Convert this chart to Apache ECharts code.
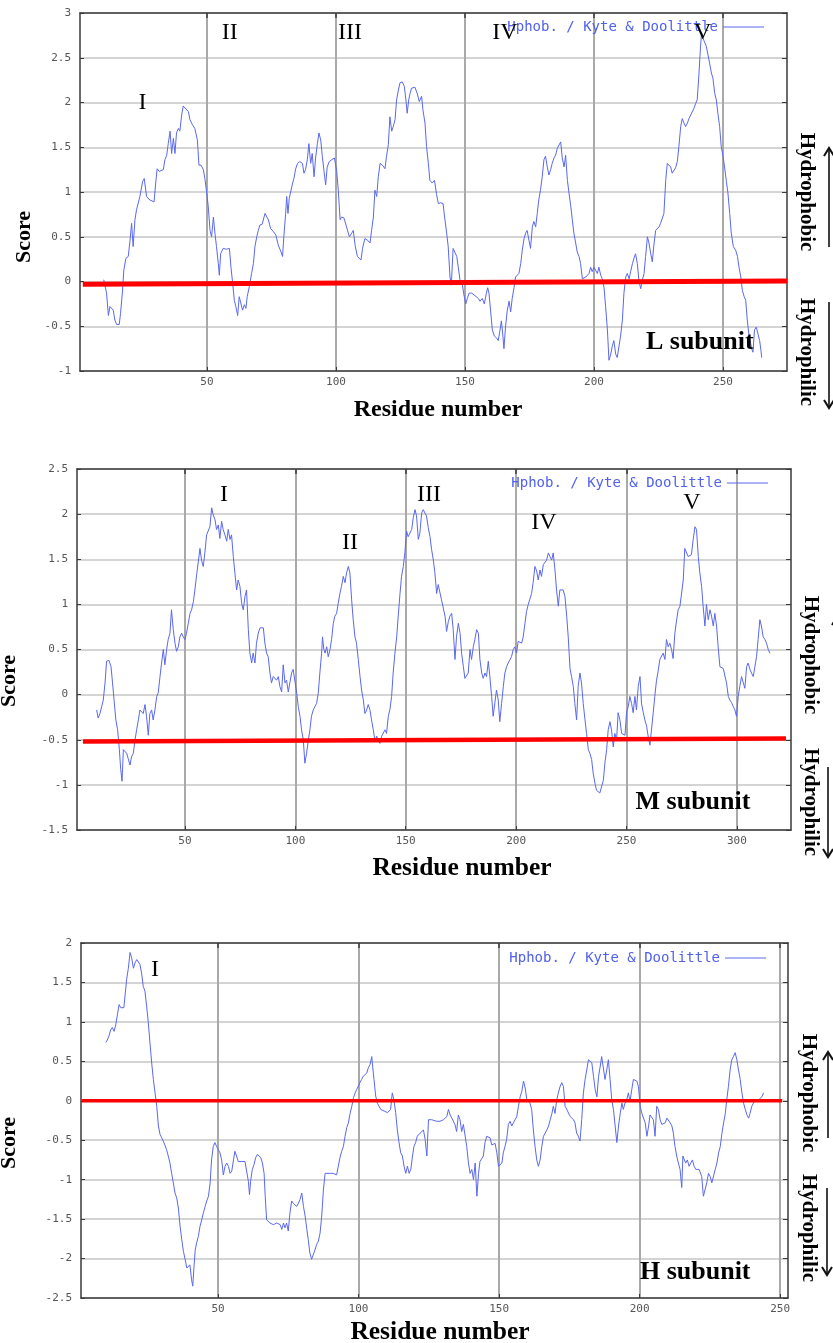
<!DOCTYPE html>
<html><head><meta charset="utf-8">
<script src="https://cdn.jsdelivr.net/npm/echarts@6/dist/echarts.min.js"></script>
<style>html,body{margin:0;padding:0;background:#fff}#c{width:833px;height:1343px}</style>
</head><body><div id="c"></div>
<script>
// ---------------- DATA ----------------
const seriesName = 'Hphob. / Kyte & Doolittle';

const lXRange = [0.8, 274.8], lYRange = [-1, 3];
const mXRange = [1.1, 324.5], mYRange = [-1.5, 2.5];
const hXRange = [1.25, 252.8], hYRange = [-2.5, 2];
const lXTicks = [50, 100, 150, 200, 250];
const mXTicks = [50, 100, 150, 200, 250, 300];
const hXTicks = [50, 100, 150, 200, 250];

// [residue, score]
const lProfile = [[10,0.02],[11.1,-0.13],[11.8,-0.38],[12.4,-0.28],[13,-0.3],[13.7,-0.32],[14.3,-0.43],[15,-0.48],[16,-0.48],[16.5,-0.36],[17.2,-0.13],[17.8,0.13],[18.6,0.26],[19.5,0.28],[20.2,0.46],[20.8,0.65],[21.4,0.39],[22.1,0.69],[22.7,0.8],[23.4,0.82],[24,0.95],[25.1,1.12],[25.7,1.15],[26.6,0.95],[27.9,0.91],[29.5,0.89],[30.2,1.12],[30.7,1.26],[31.5,1.23],[33.1,1.25],[33.7,1.36],[34.4,1.41],[35,1.54],[35.7,1.68],[36.3,1.43],[37,1.6],[37.6,1.43],[38.2,1.66],[38.9,1.71],[39.5,1.68],[40.2,1.86],[40.8,1.96],[41.5,1.96],[42.8,1.9],[43.4,1.81],[44.4,1.75],[45.3,1.71],[46.3,1.58],[46.9,1.3],[47.7,1.3],[48.6,1.25],[49.2,1.15],[49.9,0.99],[50.5,0.84],[51.2,0.57],[51.8,0.5],[52.5,0.72],[53.1,0.54],[53.7,0.39],[54.4,0.2],[54.8,0.07],[55.3,0.31],[56.3,0.37],[57.6,0.36],[58.7,0.37],[59.3,0.16],[59.9,0],[60.6,-0.21],[61.2,-0.28],[61.9,-0.38],[62.5,-0.17],[63.2,-0.25],[63.8,-0.32],[64.5,-0.26],[65.1,-0.3],[65.6,-0.17],[66.4,-0.06],[67.3,0.09],[68,0.2],[68.6,0.39],[69.3,0.5],[69.9,0.57],[70.5,0.63],[71.4,0.64],[72.5,0.76],[73.1,0.78],[73.8,0.69],[74.7,0.59],[75.7,0.56],[76.7,0.52],[77.6,0.41],[78.7,0.33],[79.3,0.28],[79.8,0.5],[80.5,0.76],[80.9,0.95],[81.4,0.76],[81.9,0.93],[82.6,0.95],[83.2,1.1],[83.7,1.15],[84.4,1.26],[85.1,1.32],[86,1.34],[87,1.32],[87.6,1.21],[88.2,1.25],[88.9,1.36],[89.5,1.54],[90.2,1.32],[90.8,1.43],[91.5,1.17],[92.1,1.38],[92.8,1.54],[93.4,1.66],[94.1,1.58],[94.7,1.4],[95.3,1.25],[96,1.08],[96.6,1.28],[97.4,1.34],[98.3,1.36],[99.4,1.38],[100.3,1.23],[100.9,1.02],[101.6,0.69],[102.2,0.72],[103.1,0.71],[104.1,0.61],[105.2,0.5],[106.1,0.54],[106.7,0.57],[107.5,0.39],[108.3,0.28],[109,0.26],[109.7,0.24],[110.3,0.37],[111.2,0.48],[112.3,0.46],[113.2,0.43],[113.8,0.57],[114.5,0.72],[115.1,1.02],[115.8,0.95],[116.4,1.17],[117.1,1.32],[118,1.3],[119,1.26],[119.6,1.4],[120.3,1.53],[120.9,1.84],[121.6,1.68],[122.2,1.73],[122.9,1.81],[123.5,2.03],[124.2,2.14],[124.8,2.22],[125.7,2.23],[126.5,2.18],[127.1,2.03],[127.6,1.88],[128.2,2.03],[128.7,2.1],[129.3,2.16],[130.6,2.17],[131.5,2.1],[132.3,2.01],[133.2,2.07],[133.7,1.92],[134.5,1.77],[135.1,1.51],[135.8,1.32],[136.4,1.13],[137.3,1.1],[138.2,1.13],[139,0.97],[139.7,0.87],[140.6,0.88],[141.5,0.87],[142.1,0.72],[142.9,0.54],[143.5,0.39],[144.2,0.05],[144.7,-0.04],[145.4,0.37],[146.1,0.35],[146.8,0.28],[147.4,0.16],[148.1,0.01],[149,-0.04],[149.6,-0.15],[150.3,-0.25],[150.9,-0.19],[151.6,-0.13],[152.6,-0.13],[153.5,-0.15],[154.4,-0.17],[155.2,-0.19],[155.8,-0.22],[156.7,-0.19],[157.5,-0.25],[158.3,-0.13],[158.8,-0.07],[159.3,-0.13],[159.9,-0.32],[160.6,-0.54],[161.4,-0.61],[162.2,-0.63],[162.9,-0.66],[163.6,-0.54],[164.1,-0.44],[164.7,-0.61],[165.1,-0.75],[165.7,-0.51],[166.4,-0.32],[167.1,-0.22],[167.7,-0.34],[168.3,-0.19],[169,-0.07],[169.6,0.05],[170.3,0.03],[170.9,0.09],[171.6,0.2],[172.2,0.35],[172.9,0.48],[173.5,0.54],[174.1,0.57],[174.8,0.46],[175.4,0.37],[176.1,0.61],[176.7,0.67],[177.4,0.61],[178,0.76],[178.6,0.91],[179.3,1.03],[179.9,1.16],[180.6,1.36],[181.2,1.4],[181.9,1.28],[182.5,1.19],[183.2,1.25],[183.8,1.32],[184.5,1.38],[185.1,1.41],[185.8,1.49],[186.4,1.51],[187.1,1.56],[187.7,1.38],[188.4,1.28],[189,1.41],[189.7,1.13],[190.3,0.99],[191,0.84],[191.6,0.69],[192.2,0.54],[192.9,0.43],[193.5,0.33],[194.2,0.28],[194.8,0.2],[195.5,0.03],[196.1,0.01],[196.8,0.05],[197.4,0.03],[198.1,0.09],[198.7,0.16],[199.3,0.11],[200,0.16],[200.6,0.14],[201.3,0.09],[201.9,0.16],[202.6,0.07],[203.2,0.03],[203.9,-0.07],[204.5,-0.28],[205.2,-0.54],[205.8,-0.88],[206.5,-0.81],[207.1,-0.72],[207.7,-0.66],[208.4,-0.81],[209,-0.85],[209.7,-0.85],[210.3,-0.61],[211,-0.43],[211.6,-0.13],[212.3,0.05],[212.9,0.09],[213.6,0.03],[214.2,0.11],[214.9,0.2],[215.5,0.26],[216.1,0.31],[216.8,0.2],[217.4,0.01],[218.1,-0.08],[218.7,0.01],[219.4,0.09],[220,0.28],[220.7,0.5],[221.3,0.43],[222,0.31],[222.6,0.22],[223.3,0.43],[223.9,0.57],[224.5,0.59],[225.2,0.61],[225.8,0.65],[226.5,0.65],[227.1,0.76],[227.8,1.13],[228.4,1.32],[229.1,1.34],[229.7,1.28],[230.3,1.21],[231,1.19],[231.6,1.27],[232.3,1.34],[232.9,1.51],[233.6,1.73],[234.2,1.82],[234.9,1.77],[235.5,1.73],[236.2,1.77],[236.8,1.82],[237.5,1.86],[238.1,1.88],[238.8,1.94],[239.4,1.99],[240,2.03],[240.7,2.33],[241.3,2.63],[241.7,2.78],[242.2,2.72],[242.9,2.7],[243.5,2.63],[244.2,2.53],[244.8,2.44],[245.5,2.33],[246.1,2.27],[246.8,2.1],[247.4,2.03],[248,1.88],[248.7,1.73],[249.3,1.51],[250,1.4],[250.6,1.28],[251.3,1.12],[251.9,0.99],[252.6,0.76],[253.2,0.54],[254,0.39],[254.9,0.35],[255.6,0.28],[256.2,0.16],[256.9,0.05],[257.5,-0.1],[258.2,-0.17],[258.8,-0.21],[259.4,-0.43],[260.1,-0.61],[260.7,-0.69],[261.1,-0.75],[261.6,-0.79],[262.2,-0.54],[262.9,-0.51],[263.6,-0.51],[264.2,-0.66],[264.7,-0.77],[265,-0.85]];

const mProfile = [[10,-0.17],[10.7,-0.26],[11.5,-0.21],[12.3,-0.13],[13,-0.06],[13.8,0.13],[14.5,0.37],[15.6,0.38],[16.5,0.31],[17.2,0.13],[18,-0.09],[18.7,-0.28],[19.5,-0.39],[20.3,-0.61],[20.9,-0.83],[21.5,-0.96],[22.1,-0.61],[22.8,-0.59],[23.6,-0.65],[24.3,-0.71],[25.1,-0.78],[25.8,-0.69],[26.6,-0.65],[27.4,-0.5],[28.1,-0.39],[28.9,-0.28],[29.6,-0.17],[30.4,-0.15],[31.1,-0.21],[31.9,-0.11],[32.6,-0.24],[33.4,-0.45],[34.1,-0.21],[34.9,-0.17],[35.6,-0.28],[36.4,-0.17],[37.2,-0.02],[37.9,0.02],[38.7,0.2],[39.4,0.35],[40.2,0.5],[40.9,0.33],[41.7,0.5],[42.4,0.61],[43.2,0.68],[43.9,0.94],[44.7,0.72],[45.5,0.57],[46.2,0.48],[47,0.53],[47.7,0.64],[48.5,0.68],[49.2,0.64],[50,0.61],[50.7,0.68],[51.5,0.79],[52.3,0.9],[53,0.94],[53.8,1.03],[54.5,1.16],[55.3,1.33],[56,1.31],[56.8,1.62],[57.5,1.49],[58.3,1.42],[59,1.57],[59.8,1.77],[60.6,1.77],[61.3,1.86],[62.1,2.07],[62.8,1.99],[63.6,1.94],[64.3,1.83],[65.1,1.88],[65.8,1.73],[66.6,1.92],[67.3,1.83],[68.1,1.77],[68.9,1.7],[69.6,1.83],[70.4,1.72],[71.1,1.77],[71.9,1.53],[72.6,1.35],[73.4,1.16],[74.1,1.27],[74.9,1.2],[75.7,1.01],[76.4,0.94],[77.2,1.09],[77.9,1.16],[78.7,0.72],[79.4,0.46],[80.2,0.35],[80.9,0.46],[81.7,0.35],[82.4,0.57],[83.2,0.68],[84,0.74],[84.7,0.72],[85.5,0.74],[86.2,0.57],[87,0.46],[87.7,0.42],[88.5,0.24],[89.2,0.13],[90,0.2],[90.7,0.2],[91.5,0.16],[92.3,0.2],[93,0.09],[93.8,0.03],[94.5,0.33],[95.3,0.13],[96,0.16],[96.8,0.03],[97.5,0.13],[98.3,0.24],[99,0.28],[99.8,0.26],[100.6,0.02],[101.3,-0.13],[102.1,-0.24],[102.8,-0.39],[103.6,-0.5],[104.3,-0.76],[105.1,-0.65],[105.8,-0.52],[106.6,-0.39],[107.3,-0.24],[108.1,-0.17],[108.9,-0.13],[109.6,-0.1],[110.4,0.02],[111.1,0.24],[111.9,0.46],[112.3,0.64],[112.9,0.5],[113.5,0.46],[114.2,0.53],[114.9,0.42],[115.7,0.5],[116.4,0.61],[117.2,0.79],[117.9,0.87],[118.7,0.9],[119.4,1.01],[120.2,1.12],[120.9,1.2],[121.7,1.31],[122.5,1.24],[123.2,1.35],[124,1.42],[124.7,1.35],[125.5,1.05],[126.2,0.83],[127,0.64],[127.7,0.57],[128.5,0.39],[129.3,0.2],[130,0.05],[130.8,-0.06],[131.5,-0.21],[132.3,-0.17],[133,-0.11],[133.8,-0.17],[134.5,-0.28],[135.3,-0.39],[136.1,-0.52],[136.8,-0.46],[137.6,-0.48],[138.3,-0.54],[139.1,-0.46],[139.8,-0.45],[140.6,-0.39],[141.3,-0.43],[142.1,-0.24],[142.8,-0.17],[143.6,-0.02],[144.3,0.24],[145.1,0.46],[145.9,0.64],[146.6,0.87],[147.4,1.12],[148.1,1.31],[148.9,1.42],[149.6,1.57],[150.4,1.81],[151.1,1.75],[151.9,1.79],[152.7,1.83],[153.4,1.96],[154.2,2.05],[154.9,1.98],[155.7,1.72],[156.4,1.79],[157.2,2.01],[157.9,2.05],[158.7,2.07],[159.4,1.98],[160.2,1.85],[161,1.75],[161.7,1.61],[162.5,1.49],[163.2,1.35],[164,1.12],[164.7,1.22],[165.5,1.2],[166.2,1.05],[167,0.96],[167.8,0.87],[168.5,0.7],[169.3,0.81],[170,0.87],[170.8,0.9],[171.5,0.72],[172.3,0.39],[173,0.64],[173.8,0.79],[174.6,0.68],[175.3,0.46],[176.1,0.31],[176.8,0.18],[177.6,0.18],[178.3,0.24],[179.1,0.5],[179.8,0.39],[180.6,0.53],[181.3,0.61],[182.1,0.72],[182.9,0.68],[183.6,0.39],[184.4,0.24],[185.1,0.18],[185.9,0.24],[186.6,0.2],[187.4,0.37],[188.1,0.2],[188.9,-0.02],[189.6,-0.24],[190.4,-0.24],[191.1,0.05],[191.9,-0.06],[192.6,-0.3],[193.4,-0.1],[194.2,0.09],[194.9,0.24],[195.7,0.31],[196.4,0.35],[197.2,0.37],[197.9,0.42],[198.7,0.5],[199.4,0.53],[200.2,0.46],[200.9,0.59],[201.7,0.61],[202.5,0.57],[203.2,0.64],[204,0.79],[204.7,0.92],[205.5,1],[206.2,1.01],[207,1.12],[207.7,1.24],[208.5,1.42],[209.3,1.37],[210,1.27],[210.8,1.38],[211.5,1.31],[212.3,1.44],[213,1.42],[213.8,1.49],[214.6,1.57],[215.3,1.53],[216.1,1.49],[216.8,1.57],[217.6,1.38],[218.3,1.16],[219.1,0.98],[219.8,1.16],[220.6,1.18],[221.3,1.16],[222.1,1.09],[222.9,0.87],[223.6,0.64],[224.4,0.29],[225.1,0.2],[225.9,0.09],[226.6,-0.1],[227.4,-0.28],[228.1,0.09],[228.9,0.24],[229.6,0.13],[230.4,-0.1],[231.2,-0.28],[231.9,-0.43],[232.7,-0.61],[233.4,-0.65],[234.2,-0.72],[234.9,-0.87],[235.7,-0.98],[236.4,-1.06],[237.2,-1.07],[237.9,-1.09],[238.7,-1.11],[239.5,-0.95],[240.2,-0.76],[241,-0.61],[241.7,-0.39],[242.5,-0.3],[243.2,-0.39],[244,-0.58],[244.7,-0.43],[245.5,-0.5],[246.2,-0.2],[247,-0.28],[247.8,-0.43],[248.5,-0.45],[249.3,-0.45],[250,-0.2],[250.8,-0.13],[251.5,-0.02],[252.3,-0.1],[253,-0.2],[253.8,-0.02],[254.5,-0.17],[255.3,0.09],[256.1,0.2],[256.8,-0.1],[257.6,-0.2],[258.3,-0.28],[259.1,-0.35],[259.8,-0.46],[260.6,-0.56],[261.3,-0.56],[262.1,-0.2],[262.8,-0.02],[263.6,0.16],[264.4,0.27],[265.1,0.39],[265.9,0.39],[266.6,0.46],[267.4,0.39],[268.1,0.61],[268.9,0.53],[269.6,0.57],[270.4,0.5],[271.1,0.4],[271.9,0.68],[272.7,0.83],[273.4,0.94],[274.2,0.98],[274.9,1],[275.7,1.27],[276.4,1.62],[277.2,1.64],[277.9,1.53],[278.7,1.55],[279.4,1.55],[280.2,1.72],[281,1.86],[281.7,1.83],[282.5,1.53],[283.2,1.35],[284,1.2],[284.7,0.98],[285.5,0.76],[286.2,1],[287,0.83],[287.8,0.94],[288.5,0.87],[289.3,0.76],[290,0.9],[290.8,0.76],[291.5,0.53],[292.3,0.31],[293,0.29],[293.8,0.29],[294.6,0.27],[295.3,0.13],[296.1,-0.02],[296.8,-0.06],[297.6,-0.09],[298.3,-0.13],[299.1,-0.17],[299.8,-0.24],[300.6,-0.02],[301.3,0.09],[302.1,0.2],[302.9,0.13],[303.6,0.07],[304.4,0.31],[305.1,0.35],[305.9,0.28],[306.6,0.24],[307.4,0.2],[308.1,0.2],[308.9,0.42],[309.6,0.61],[310.4,0.83],[311.1,0.76],[311.9,0.64],[312.7,0.61],[313.4,0.57],[314.2,0.5],[314.9,0.46]];

const hProfile = [[10.1,0.74],[10.6,0.77],[11.2,0.82],[11.8,0.9],[12.4,0.93],[13,0.88],[13.6,0.96],[14.2,1.09],[14.8,1.22],[15.4,1.18],[16,1.18],[16.5,1.18],[17.1,1.2],[17.5,1.54],[18.1,1.68],[18.7,1.88],[19.3,1.81],[19.9,1.68],[20.5,1.75],[21.1,1.79],[21.6,1.77],[22.2,1.73],[22.8,1.62],[23.4,1.45],[24,1.39],[24.6,1.2],[25.2,0.99],[25.8,0.73],[26.4,0.48],[27,0.27],[27.6,0.1],[28.2,-0.07],[28.8,-0.32],[29.4,-0.43],[30,-0.47],[30.5,-0.51],[31.1,-0.56],[31.7,-0.62],[32.3,-0.7],[32.9,-0.79],[33.5,-0.92],[34.1,-1.04],[34.7,-1.17],[35.3,-1.23],[35.9,-1.36],[36.5,-1.59],[37.1,-1.76],[37.7,-1.91],[38.3,-2.01],[38.9,-2.12],[39.4,-2.1],[40,-2.08],[40.6,-2.27],[41,-2.35],[41.5,-2.08],[41.9,-1.89],[42.4,-1.8],[43,-1.72],[43.6,-1.59],[44.2,-1.51],[44.8,-1.42],[45.4,-1.34],[46,-1.27],[46.6,-1.21],[47.2,-1.04],[47.7,-0.75],[48.3,-0.58],[48.9,-0.53],[49.5,-0.58],[50.1,-0.58],[50.7,-0.66],[51.3,-0.75],[51.9,-0.94],[52.5,-0.83],[53.1,-0.79],[53.7,-0.83],[54.3,-0.92],[54.9,-0.89],[55.5,-0.75],[56,-0.64],[56.6,-0.7],[57.2,-0.77],[57.8,-0.77],[58.4,-0.77],[59,-0.77],[59.6,-0.77],[60.2,-0.77],[60.8,-1.02],[61.2,-1.19],[61.6,-1.02],[62.2,-0.87],[62.8,-0.81],[63.4,-0.72],[64,-0.68],[64.6,-0.7],[65.2,-0.72],[65.8,-0.79],[66.4,-0.92],[66.8,-1.21],[67.3,-1.51],[67.9,-1.53],[68.5,-1.55],[69.1,-1.57],[69.7,-1.57],[70.3,-1.57],[70.9,-1.55],[71.5,-1.55],[72.1,-1.57],[72.7,-1.63],[73.3,-1.55],[73.8,-1.61],[74.4,-1.55],[75,-1.65],[75.6,-1.42],[76.2,-1.27],[76.8,-1.3],[77.4,-1.32],[78,-1.34],[78.6,-1.3],[79.2,-1.25],[79.8,-1.17],[80.4,-1.34],[81,-1.46],[81.6,-1.63],[82.1,-1.76],[82.7,-1.93],[83.3,-2.01],[83.9,-1.99],[84.5,-1.89],[85.1,-1.82],[85.7,-1.78],[86.3,-1.68],[86.9,-1.46],[87.5,-1.13],[88.1,-0.92],[88.7,-0.91],[89.9,-0.92],[91,-0.92],[92.2,-0.94],[92.8,-0.83],[93.4,-0.72],[94,-0.64],[94.6,-0.58],[95.2,-0.45],[95.8,-0.34],[96.4,-0.28],[97,-0.16],[97.6,-0.07],[98.2,0.04],[98.8,0.1],[99.3,0.14],[99.9,0.16],[100.5,0.23],[101.1,0.27],[101.7,0.31],[102.3,0.31],[102.9,0.35],[103.5,0.42],[104.1,0.46],[104.7,0.56],[105,0.44],[105.5,0.27],[106.1,0.06],[106.7,-0.03],[107.3,-0.07],[107.9,-0.11],[108.5,-0.11],[109.1,-0.13],[109.7,-0.13],[110.3,-0.15],[110.9,-0.15],[111.4,-0.11],[112,0.1],[112.6,0.01],[113.2,-0.15],[113.8,-0.37],[114.4,-0.53],[115,-0.66],[115.6,-0.7],[116.2,-0.83],[116.8,-0.92],[117.4,-0.83],[118,-0.92],[118.6,-0.87],[119.2,-0.7],[119.7,-0.58],[120.3,-0.53],[120.9,-0.45],[121.5,-0.45],[121.9,-0.41],[122.5,-0.41],[123.1,-0.37],[123.7,-0.49],[124.3,-0.7],[124.9,-0.24],[126,-0.24],[127.8,-0.26],[129,-0.26],[130.2,-0.24],[131.4,-0.2],[132,-0.11],[132.6,-0.18],[133.2,-0.22],[133.7,-0.24],[134.3,-0.3],[134.9,-0.39],[135.5,-0.18],[136.1,-0.24],[136.7,-0.39],[137.3,-0.3],[137.9,-0.32],[138.5,-0.58],[139.1,-0.79],[139.7,-0.92],[140.3,-0.87],[140.9,-1],[141.5,-0.79],[142.1,-1.21],[142.7,-0.92],[143.2,-0.77],[143.8,-0.77],[144.4,-0.7],[145,-0.53],[145.6,-0.45],[146.2,-0.45],[146.8,-0.47],[147.4,-0.56],[148,-0.58],[148.6,-0.54],[149.2,-0.66],[149.8,-0.83],[150.4,-0.85],[151,-0.79],[151.5,-0.66],[152.1,-0.58],[152.7,-0.49],[153.3,-0.3],[153.9,-0.26],[154.5,-0.32],[155.1,-0.34],[155.7,-0.24],[156.3,-0.2],[156.9,-0.07],[157.5,0.05],[158.1,0.12],[158.7,0.25],[159.3,0.16],[159.9,0.01],[160.4,-0.01],[161,-0.03],[161.6,-0.11],[162.2,-0.37],[162.8,-0.58],[163.4,-0.75],[164,-0.83],[164.6,-0.75],[165.2,-0.58],[165.8,-0.45],[166.4,-0.41],[167,-0.37],[167.6,-0.32],[168.2,-0.24],[168.8,-0.16],[169.3,-0.07],[169.9,-0.16],[170.5,0.01],[171.1,0.1],[171.7,0.18],[172.3,0.23],[172.9,0.18],[173.5,-0.07],[174.1,-0.11],[174.7,-0.11],[175.3,-0.2],[175.9,-0.22],[176.5,-0.24],[177,-0.28],[177.6,-0.41],[178.2,-0.45],[178.8,-0.51],[179.4,-0.24],[180,0.1],[180.6,0.27],[181.2,0.39],[181.8,0.52],[182.4,0.5],[183,0.48],[183.6,0.31],[184.2,0.14],[184.8,0.05],[185.4,0.31],[186,0.44],[186.5,0.56],[187.1,0.58],[187.7,0.27],[188.3,0.39],[188.9,0.52],[189.5,0.27],[190.1,0.01],[190.7,-0.11],[191.3,-0.32],[191.9,-0.53],[192.5,-0.32],[193.1,-0.16],[193.7,-0.03],[194.2,-0.11],[194.8,-0.03],[195.4,0.01],[196,0.1],[196.6,-0.01],[197.2,0.14],[197.8,0.27],[198.4,0.29],[199,0.25],[199.6,0.18],[200.2,-0.07],[200.8,-0.16],[201.4,-0.18],[202,-0.28],[202.6,-0.45],[203.2,-0.32],[203.7,-0.18],[204.3,-0.16],[204.9,-0.24],[205.5,-0.45],[206.1,-0.07],[206.7,-0.11],[207.3,-0.24],[207.9,-0.3],[208.5,-0.32],[209.1,-0.28],[209.7,-0.22],[210.3,-0.2],[210.9,-0.28],[211.5,-0.32],[212,-0.41],[212.6,-0.58],[213.2,-0.7],[213.8,-0.79],[214.4,-0.87],[215,-1.1],[215.4,-0.7],[215.9,-0.7],[216.4,-0.79],[217,-0.75],[217.6,-0.83],[218.2,-0.79],[218.8,-0.75],[219.4,-0.83],[220,-0.87],[220.6,-0.87],[221.2,-0.87],[221.8,-0.89],[222.1,-0.96],[222.7,-1.21],[223.3,-1.23],[223.9,-1.04],[224.5,-0.92],[225.1,-0.96],[225.7,-1.04],[226.3,-1.02],[226.9,-0.87],[227.5,-0.79],[228.1,-0.66],[228.7,-0.58],[229.3,-0.41],[229.9,-0.28],[230.5,-0.16],[231,0.01],[231.6,0.18],[232.2,0.39],[232.8,0.52],[233.4,0.56],[234,0.61],[234.6,0.52],[235.2,0.39],[235.8,0.27],[236.4,0.1],[237,-0.03],[237.6,-0.11],[238.2,-0.18],[238.8,-0.22],[239.3,-0.16],[239.9,-0.07],[240.5,-0.03],[241.1,0.01],[241.7,0.01],[242.3,0.01],[242.9,0.03],[243.5,0.05],[244.1,0.1]];

// red reference lines [residue, score] endpoints
const lRedLine = [[1.9, -0.03], [274.8, 0.005]];
const mRedLine = [[3.8, -0.52], [322.2, -0.485]];
const hRedLine = [[1.6, 0], [250.7, 0]];

// annotations (text, residue, score)
const lNumeralText = ['I', 'II', 'III', 'IV', 'V'];
const lNumeralX = [25.0, 58.8, 105.4, 165.5, 242.1];
const lNumeralY = [2.0, 2.78, 2.78, 2.78, 2.78];
const mNumeralText = ['I', 'II', 'III', 'IV', 'V'];
const mNumeralX = [67.7, 124.7, 160.5, 212.6, 279.6];
const mNumeralY = [2.22, 1.68, 2.21, 1.90, 2.13];
const hNumeralText = ['I'];
const hNumeralX = [27.6];
const hNumeralY = [1.66];
const lSubunit = ['L subunit', 241, -0.68];
const mSubunit = ['M subunit', 280.1, -1.19];
const hSubunit = ['H subunit', 219.8, -2.18];

// ---------------- CHART ----------------
const chart = echarts.init(document.getElementById('c'), null, {renderer: 'canvas'});
const FRAME = '#3a3a3a';
const tickFont = {color: '#555', fontFamily: 'DejaVu Sans Mono', fontSize: 11};
const serif = 'Liberation Serif, Times New Roman, serif';

const grids = [
  {left: 80, top: 13, width: 707, height: 358},
  {left: 77, top: 469, width: 714, height: 361},
  {left: 81, top: 943, width: 707, height: 355}
];
const xRanges = [lXRange, mXRange, hXRange];
const yRanges = [lYRange, mYRange, hYRange];
const xTicks = [lXTicks, mXTicks, hXTicks];

const xAxes = [], yAxes = [];
for (let g = 0; g < 3; g++) {
  xAxes.push({
    type: 'value', gridIndex: g, position: 'bottom', min: xRanges[g][0], max: xRanges[g][1],
    axisLine: {show: true, onZero: false, lineStyle: {color: FRAME, width: 1.5}},
    axisTick: {show: true, inside: true, length: 4, customValues: xTicks[g], lineStyle: {color: FRAME}},
    axisLabel: Object.assign({customValues: xTicks[g], margin: 6}, tickFont),
    splitLine: {show: true, lineStyle: {color: '#a9a9a9', width: 2}}
  });
  xAxes.push({
    type: 'value', gridIndex: g, position: 'top', min: xRanges[g][0], max: xRanges[g][1],
    axisLine: {show: true, onZero: false, lineStyle: {color: FRAME, width: 1.5}},
    axisTick: {show: true, inside: true, length: 5, customValues: xTicks[g], lineStyle: {color: FRAME, width: 1.5}},
    axisLabel: {show: false}, splitLine: {show: false}
  });
  yAxes.push({
    type: 'value', gridIndex: g, position: 'left', min: yRanges[g][0], max: yRanges[g][1], interval: 0.5,
    axisLine: {show: true, onZero: false, lineStyle: {color: FRAME, width: 1.5}},
    axisTick: {show: true, inside: true, length: 4, lineStyle: {color: FRAME}},
    axisLabel: Object.assign({margin: 9}, tickFont),
    splitLine: {show: true, lineStyle: {color: '#c6c6c6', width: 1.5}}
  });
  yAxes.push({
    type: 'value', gridIndex: g, position: 'right', min: yRanges[g][0], max: yRanges[g][1], interval: 0.5,
    axisLine: {show: true, onZero: false, lineStyle: {color: FRAME, width: 1.5}},
    axisTick: {show: true, inside: true, length: 5, lineStyle: {color: FRAME}},
    axisLabel: {show: false}, splitLine: {show: false}
  });
}

const profiles = [lProfile, mProfile, hProfile];
const redLines = [lRedLine, mRedLine, hRedLine];
const redWidths = [5, 4.5, 3.5];
const numerals = [
  [lNumeralText, lNumeralX, lNumeralY],
  [mNumeralText, mNumeralX, mNumeralY],
  [hNumeralText, hNumeralX, hNumeralY]
];
const subunits = [lSubunit, mSubunit, hSubunit];

const series = [];
for (let g = 0; g < 3; g++) {
  series.push({
    name: seriesName, type: 'line', xAxisIndex: g * 2, yAxisIndex: g * 2,
    data: profiles[g], showSymbol: false, symbol: 'none', smooth: false,
    lineStyle: {color: '#5a68ee', width: 1}, itemStyle: {color: '#5a68ee'}, z: 3, animation: false
  });
  series.push({
    name: 'zero', type: 'line', xAxisIndex: g * 2, yAxisIndex: g * 2,
    data: redLines[g], showSymbol: false, symbol: 'none',
    lineStyle: {color: '#ff0000', width: redWidths[g]}, z: 4, animation: false
  });
  const [txt, xs, ys] = numerals[g];
  const notes = txt.map((t, i) => ({
    value: [xs[i], ys[i]],
    label: {show: true, position: 'inside', formatter: t, fontFamily: serif, fontSize: 24,
      color: '#000000', textBorderWidth: 0, opacity: 1}
  }));
  const s = subunits[g];
  notes.push({
    value: [s[1], s[2]],
    label: {show: true, position: 'inside', formatter: s[0], fontFamily: serif, fontSize: 26, fontWeight: 'bold',
      color: '#000000', textBorderWidth: 0, opacity: 1}
  });
  series.push({
    name: 'notes', type: 'scatter', xAxisIndex: g * 2, yAxisIndex: g * 2,
    data: notes, symbol: 'circle', symbolSize: 2,
    itemStyle: {color: 'rgba(255,255,255,0)'},
    label: {show: true, position: 'inside', color: '#000000', textBorderWidth: 0},
    z: 6, animation: false, silent: true
  });
}

const legendTops = [15, 471, 946];
const legendRights = [64, 60, 62];
const legends = legendTops.map((t, i) => ({
  top: t, right: legendRights[i], align: 'right', orient: 'horizontal',
  data: [seriesName], icon: 'rect', itemWidth: 41, itemHeight: 1,
  textStyle: {color: '#5060f0', fontFamily: 'DejaVu Sans Mono', fontSize: 14},
  selectedMode: false
}));

function vtext(x, y, text, size, rot) {
  return {type: 'text', x: x, y: y, rotation: rot, z: 10,
    style: {text: text, font: 'bold ' + size + 'px ' + serif, fill: '#000', align: 'center', verticalAlign: 'middle'}};
}
function arrow(x, y1, y2, headAtTop) {
  const hy = headAtTop ? y1 : y2;
  const d = headAtTop ? 8 : -8;
  return [
    {type: 'line', z: 10, shape: {x1: x, y1: y1, x2: x, y2: y2}, style: {stroke: '#111', lineWidth: 1.6}},
    {type: 'polyline', z: 10, shape: {points: [[x - 5, hy + d], [x, hy], [x + 5, hy + d]]}, style: {stroke: '#111', lineWidth: 2, fill: null}}
  ];
}

const graphics = [
  vtext(24, 237, 'Score', 22, Math.PI / 2),
  vtext(9, 681, 'Score', 22, Math.PI / 2),
  vtext(9, 1143, 'Score', 22, Math.PI / 2),
  vtext(438, 410, 'Residue number', 24, 0),
  vtext(462, 868, 'Residue number', 25.5, 0),
  vtext(440, 1332, 'Residue number', 25.5, 0),
  vtext(806, 192, 'Hydrophobic', 21, -Math.PI / 2),
  vtext(806, 352, 'Hydrophilic', 21, -Math.PI / 2),
  vtext(810, 655, 'Hydrophobic', 21, -Math.PI / 2),
  vtext(810, 802, 'Hydrophilic', 21, -Math.PI / 2),
  vtext(808, 1093, 'Hydrophobic', 21, -Math.PI / 2),
  vtext(808, 1228, 'Hydrophilic', 21, -Math.PI / 2)
].concat(
  arrow(829, 148, 247, true),
  arrow(829, 302, 408, false),
  arrow(837, 617, 720, true),
  arrow(828, 767, 857, false),
  arrow(828, 1052, 1138, true),
  arrow(827, 1188, 1275, false)
);

chart.setOption({
  animation: false,
  backgroundColor: '#ffffff',
  grid: grids,
  xAxis: xAxes,
  yAxis: yAxes,
  legend: legends,
  series: series,
  graphic: graphics
});
</script>
</body></html>
